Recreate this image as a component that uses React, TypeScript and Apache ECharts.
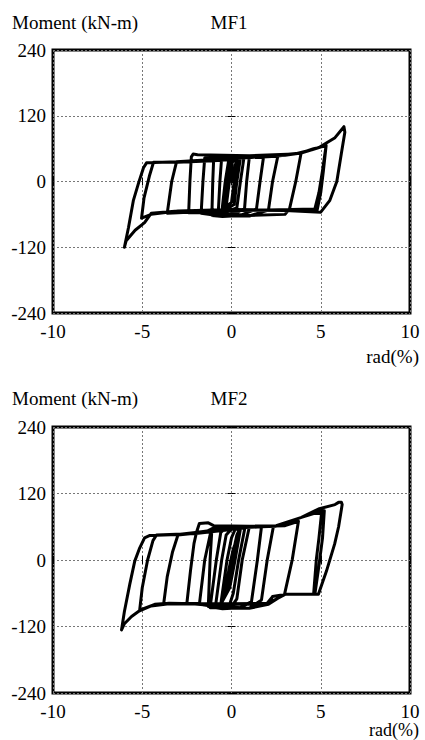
import React, { useEffect, useRef } from "react";
import * as echarts from "echarts";

// Axis ticks
const xTicks = [-10, -5, 0, 5, 10];
const yTicks = [-240, -120, 0, 120, 240];

// MF1 hysteresis (rotation %, moment kN-m)
const mf1Rad = [
  0, 0.2, 0.35, 0.15, 0.0, -0.3, -0.12, 0.05,
  0.5, 0.3, 0.15, -0.4, -0.2, -0.05,
  0.7, 0.5, 0.3, -0.55, -0.35, -0.15,
  1.0, 0.85, 0.73, 0.2, -0.75, -0.65, -0.56,
  0.5, 1.8, 1.6, 1.4, 0.5, -0.5, -1.1, -1.05, -1.0,
  0.3, 2.6, 2.3, 2.07, 1.0, -0.8, -1.7, -1.6, -1.5,
  0.5, 3.0, 3.9, 3.6, 3.25, 3.0, 1.0, -1.0, -2.4, -2.33, -2.25, -2.15, -1.9,
  1.0, 3.5, 4.5, 5.3, 5.1, 4.9, 4.67, 2.0, -1.0, -3.0, -3.6, -3.35, -3.08,
  -1.0, 2.5, 3.9, 4.9, 5.8, 6.3, 6.35, 6.15, 5.9, 5.5, 5.0, 3.0, 0.0, -3.0, -4.5, -4.87, -5.4, -5.9, -6.0, -5.77, -5.5, -5.2, -4.93, -4.76,
  -3.0, -1.0, 2.0, 3.9, 4.6, 5.3, 5.15, 5.0, 4.8, 3.0, 0.0, -3.0, -4.5, -5.04, -4.9, -4.6, -4.37, -3.0, -1.0, 0.0,
];
const mf1Moment = [
  0, 30, 40, 0, -38, -46, 0, 36,
  43, 0, -42, -52, 0, 38,
  44, 0, -48, -58, 0, 40,
  45, 0, -50, -58, -62, 0, 40,
  44, 46, 0, -50, -62, -64, -62, 0, 40,
  45, 47, 0, -52, -63, -62, -58, 0, 43,
  46, 48, 52, 0, -50, -60, -62, -57, -57, 0, 45, 50, 49,
  47, 50, 58, 66, 20, -20, -50, -52, -54, -57, -58, 0, 36,
  40, 46, 52, 62, 80, 100, 90, 50, 0, -35, -56, -53, -52, -54, -58, -75, -89, -108, -120, -84, -35, -2, 25, 34,
  36, 40, 46, 52, 60, 65, 20, -20, -52, -52, -51, -54, -60, -67, -30, 10, 35, 35, 38, 40,
];

// MF2 hysteresis (rotation %, moment kN-m)
const mf2Rad = [
  0, 0.3, 0.4, 0.1, -0.2, -0.45, -0.1, 0.1, 0.5,
  0.2, -0.1, -0.6, -0.25, 0.0, 0.2,
  0.75, 0.4, 0.1, -0.1, -0.9, -0.55, -0.3, 0.0,
  1.0, 0.6, 0.3, 0.0, -1.2, -0.85, -0.6, -0.3,
  0.5, 1.68, 1.45, 1.12, 0.5, -0.5, -1.3, -1.2, -1.1,
  0.5, 2.35, 2.0, 1.68, 1.0, -0.5, -1.8, -1.5, -1.2, -0.95,
  0.5, 3.0, 3.75, 3.4, 2.97, 2.6, 2.07, 1.0, -0.5, -2.5, -2.3, -2.1, -1.96, -1.8, -1.3, -1.0,
  1.0, 2.5, 3.92, 4.6, 5.2, 5.1, 4.9, 4.67, 3.0, 2.3, 2.0, 0.0, -2.0, -3.5, -3.8, -3.6, -3.3, -3.0, -1.5,
  -1.0, 1.0, 2.5, 3.92, 4.87, 5.8, 6.0, 6.16, 6.2, 6.0, 5.78, 5.32, 4.87, 3.0, 2.07, 0.0, -3.5, -4.3, -5.04, -5.6, -6.0, -6.16, -6.0, -5.7, -5.42, -5.14, -4.87, -4.6,
  -3.0, -1.9, 0.0, 2.5, 3.92, 4.6, 5.05, 4.9, 4.75, 4.6, 3.0, 2.3, 2.07, 0.0, -3.5, -4.5, -5.15, -5.0, -4.7, -4.4, -4.2, -2.0, 0.0,
];
const mf2Moment = [
  0, 45, 52, 0, -45, -70, -10, 20, 56,
  0, -50, -80, 0, 40, 55,
  58, 0, -60, -80, -84, 0, 45, 56,
  60, 0, -70, -84, -86, 0, 50, 58,
  58, 60, 0, -75, -86, -88, -84, 0, 55,
  60, 61, 0, -72, -87, -86, -80, 0, 45, 58,
  60, 62, 70, 0, -62, -69, -80, -87, -84, -78, -20, 30, 50, 66, 67, 62,
  61, 62, 77, 86, 89, 40, -10, -62, -62, -66, -78, -80, -79, -78, -79, -30, 15, 45, 50,
  58, 61, 62, 77, 92, 100, 104, 104, 100, 60, 29, -20, -62, -62, -78, -79, -78, -80, -89, -102, -115, -126, -93, -44, -2, 22, 40, 44,
  46, 50, 58, 61, 77, 84, 86, 40, 0, -62, -62, -66, -80, -80, -79, -83, -92, -50, 0, 35, 45, 48, 55,
];

const FONT = "'Liberation Serif', 'Times New Roman', serif";

function zip(a: number[], b: number[]) {
  return a.map((v, i) => [v, b[i]]);
}

export default function App() {
  const ref = useRef<HTMLDivElement>(null);
  useEffect(() => {
    if (!ref.current) return;
    const chart = echarts.init(ref.current, undefined, { renderer: "svg" });
    const grids = [
      { left: 53, top: 50, width: 357, height: 263 },
      { left: 53, top: 427, width: 357, height: 266 },
    ];
    const xAxes: any[] = [];
    const yAxes: any[] = [];
    const tick = { show: true, inside: true, length: 4, lineStyle: { color: "#000", width: 1 } };
    const split = { show: true, lineStyle: { color: "#777", width: 1, type: [2, 2] } };
    grids.forEach((_, gi) => {
      xAxes.push({
        type: "value", gridIndex: gi, position: "bottom",
        min: xTicks[0], max: xTicks[xTicks.length - 1], interval: 5,
        axisLine: { show: false }, axisTick: tick,
        axisLabel: { show: true, color: "#000", fontFamily: FONT, fontSize: 19, margin: 9 },
        splitLine: split,
      });
      xAxes.push({
        type: "value", gridIndex: gi, position: "top",
        min: xTicks[0], max: xTicks[xTicks.length - 1], interval: 5,
        axisLine: { show: false }, axisTick: tick,
        axisLabel: { show: false }, splitLine: { show: false },
      });
      yAxes.push({
        type: "value", gridIndex: gi, position: "left",
        min: yTicks[0], max: yTicks[yTicks.length - 1], interval: 120,
        axisLine: { show: false }, axisTick: tick,
        axisLabel: { show: true, color: "#000", fontFamily: FONT, fontSize: 19, margin: 7 },
        splitLine: split,
      });
      yAxes.push({
        type: "value", gridIndex: gi, position: "right",
        min: yTicks[0], max: yTicks[yTicks.length - 1], interval: 120,
        axisLine: { show: false }, axisTick: tick,
        axisLabel: { show: false }, splitLine: { show: false },
      });
    });

    const txt = (t: string, x: number, y: number, align: string, size = 19) => ({
      type: "text",
      x,
      y,
      style: {
        text: t,
        fill: "#000",
        font: `${size}px ${FONT}`,
        textAlign: align,
        textVerticalAlign: "middle",
      },
    });

    const lineStyle = { color: "#000", width: 3, join: "round", cap: "round" };

    chart.setOption({
      animation: false,
      backgroundColor: "#fff",
      grid: grids.map((g) => ({
        ...g,
        show: true,
        borderColor: "#000",
        borderWidth: 3,
        backgroundColor: "transparent",
        containLabel: false,
      })),
      xAxis: xAxes,
      yAxis: yAxes,
      series: [
        {
          type: "line", xAxisIndex: 0, yAxisIndex: 0,
          data: zip(mf1Rad, mf1Moment),
          showSymbol: false, symbol: "none", lineStyle, z: 5,
        },
        {
          type: "line", xAxisIndex: 2, yAxisIndex: 2,
          data: zip(mf2Rad, mf2Moment),
          showSymbol: false, symbol: "none", lineStyle, z: 5,
        },
      ],
      graphic: [
        txt("Moment (kN-m)", 12, 22, "left"),
        txt("MF1", 229, 22, "center"),
        txt("rad(%)", 419, 356, "right"),
        txt("Moment (kN-m)", 12, 398, "left"),
        txt("MF2", 229, 398, "center"),
        txt("rad(%)", 419, 730, "right", 18),
      ],
    });
    return () => chart.dispose();
  }, []);
  return (
    <div
      ref={ref}
      style={{ position: "absolute", left: 0, top: 0, width: 425, height: 740 }}
    />
  );
}
